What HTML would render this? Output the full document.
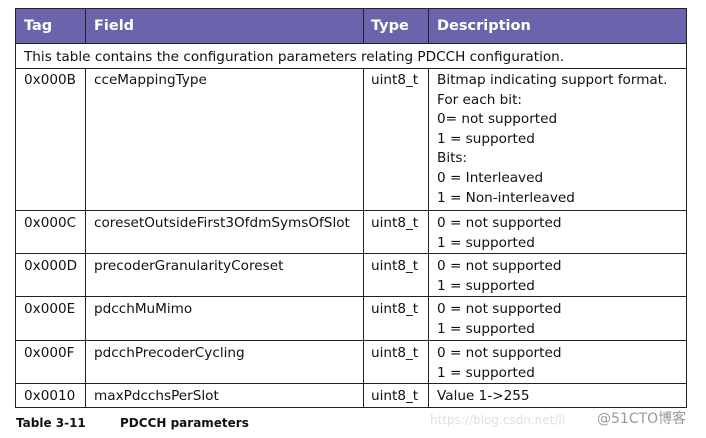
<!DOCTYPE html>
<html><head><style>
body{margin:0;width:706px;height:438px;background:#fff;position:relative;font-family:"DejaVu Sans",Verdana,sans-serif;font-size:13.6px;color:#111;overflow:hidden}
.h{position:absolute;left:15px;top:8px;width:672px;height:36px;background:#6b64ad;border:1px solid #222;box-sizing:border-box}
.ht{position:absolute;top:18px;color:#fff;font-weight:bold;font-size:14.5px}
.l{position:absolute;background:#222}
.t{position:absolute;line-height:19.6px;white-space:nowrap}
</style></head><body>
<div class="h"></div>
<div class="ht" style="left:24px">Tag</div>
<div class="ht" style="left:94px">Field</div>
<div class="ht" style="left:371px">Type</div>
<div class="ht" style="left:437px">Description</div>
<div class="l" style="left:15px;top:8px;width:1px;height:400px"></div>
<div class="l" style="left:686px;top:8px;width:1px;height:400px"></div>
<div class="l" style="left:15px;top:407px;width:672px;height:1px"></div>
<div class="l" style="left:85px;top:8px;width:1px;height:36px"></div>
<div class="l" style="left:363px;top:8px;width:1px;height:36px"></div>
<div class="l" style="left:428px;top:8px;width:1px;height:36px"></div>
<div class="l" style="left:85px;top:68px;width:1px;height:340px"></div>
<div class="l" style="left:363px;top:68px;width:1px;height:340px"></div>
<div class="l" style="left:428px;top:68px;width:1px;height:340px"></div>
<div class="l" style="left:15px;top:68px;width:672px;height:1px"></div>
<div class="l" style="left:15px;top:210px;width:672px;height:1px"></div>
<div class="l" style="left:15px;top:253px;width:672px;height:1px"></div>
<div class="l" style="left:15px;top:296px;width:672px;height:1px"></div>
<div class="l" style="left:15px;top:340px;width:672px;height:1px"></div>
<div class="l" style="left:15px;top:383px;width:672px;height:1px"></div>
<div class="t" style="left:24px;top:48px">This table contains the configuration parameters relating PDCCH configuration.</div>
<div class="t" style="left:24px;top:71px">0x000B</div>
<div class="t" style="left:94px;top:71px">cceMappingType</div>
<div class="t" style="left:371px;top:71px">uint8_t</div>
<div class="t" style="left:437px;top:71px">Bitmap indicating support format.<br>For each bit:<br>0= not supported<br>1 = supported<br>Bits:<br>0 = Interleaved<br>1 = Non-interleaved</div>
<div class="t" style="left:24px;top:214px">0x000C</div>
<div class="t" style="left:94px;top:214px">coresetOutsideFirst3OfdmSymsOfSlot</div>
<div class="t" style="left:371px;top:214px">uint8_t</div>
<div class="t" style="left:437px;top:214px">0 = not supported<br>1 = supported</div>
<div class="t" style="left:24px;top:257px">0x000D</div>
<div class="t" style="left:94px;top:257px">precoderGranularityCoreset</div>
<div class="t" style="left:371px;top:257px">uint8_t</div>
<div class="t" style="left:437px;top:257px">0 = not supported<br>1 = supported</div>
<div class="t" style="left:24px;top:300px">0x000E</div>
<div class="t" style="left:94px;top:300px">pdcchMuMimo</div>
<div class="t" style="left:371px;top:300px">uint8_t</div>
<div class="t" style="left:437px;top:300px">0 = not supported<br>1 = supported</div>
<div class="t" style="left:24px;top:344px">0x000F</div>
<div class="t" style="left:94px;top:344px">pdcchPrecoderCycling</div>
<div class="t" style="left:371px;top:344px">uint8_t</div>
<div class="t" style="left:437px;top:344px">0 = not supported<br>1 = supported</div>
<div class="t" style="left:24px;top:387px">0x0010</div>
<div class="t" style="left:94px;top:387px">maxPdcchsPerSlot</div>
<div class="t" style="left:371px;top:387px">uint8_t</div>
<div class="t" style="left:437px;top:387px">Value 1-&gt;255</div>
<div class="t" style="left:16px;top:414px;font-weight:bold;font-size:12px">Table 3-11</div>
<div class="t" style="left:120px;top:414px;font-weight:bold;font-size:12px">PDCCH parameters</div>
<div class="t" style="left:430px;top:411px;font-size:12px;color:#e0e0e0">https://blog.csdn.net/li</div>
<div class="t" style="left:597px;top:410px;font-size:14px;color:#999;font-family:'DejaVu Sans','Noto Sans CJK SC',sans-serif">@51CTO博客</div>
</body></html>
